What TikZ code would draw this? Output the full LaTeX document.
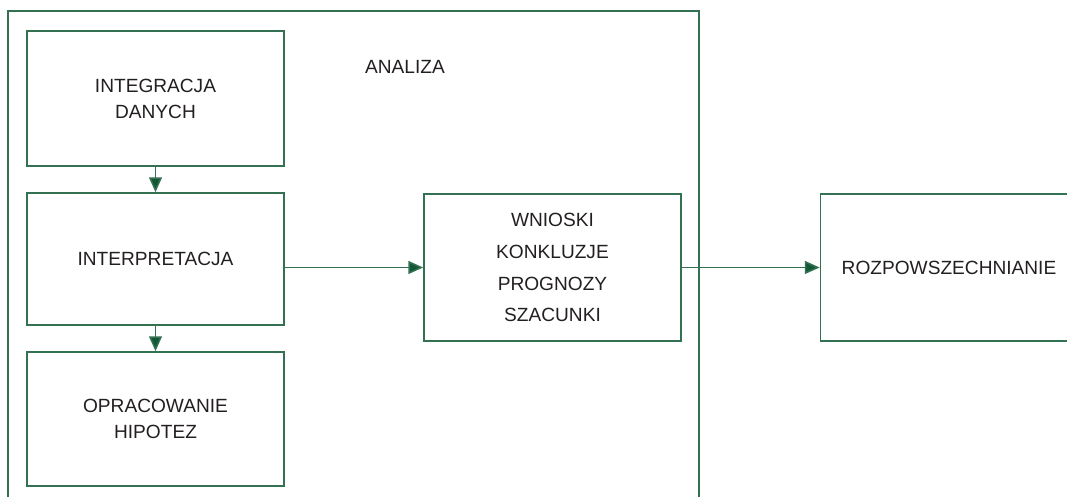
\documentclass[tikz,border=0pt]{standalone}
\usepackage{fontspec}
\setmainfont{Liberation Sans}
\usetikzlibrary{arrows.meta}

\definecolor{ramka}{RGB}{52,112,82}
\definecolor{grot}{RGB}{18,88,52}
\definecolor{tekst}{RGB}{35,31,32}

\tikzset{
  blok/.style={draw=ramka, line width=1.1pt, minimum width=6.425cm, text=tekst,
    align=center, font=\fontsize{13.6}{18.5}\selectfont, inner sep=0pt},
  strz/.style={draw=ramka, line width=1.1pt, -{Triangle[length=0.37cm,width=0.32cm,fill=grot]}}
}

\begin{document}
\begin{tikzpicture}
\clip (0,0) rectangle (26.675,12.425);

% ramka analizy (otwarta u dolu)
\draw[ramka, line width=1.1pt] (0.2,-0.2) -- (0.2,12.15) -- (17.475,12.15) -- (17.475,-0.2);
\node[text=tekst, font=\fontsize{13.6}{16}\selectfont] (analiza) at (10.125,10.75) {ANALIZA};

\node[blok, minimum height=3.375cm] (integr) at (3.8875,9.9625) {INTEGRACJA\\DANYCH};
\node[blok, minimum height=3.3cm] (interp) at (3.8875,5.95) {INTERPRETACJA};
\node[blok, minimum height=3.35cm] (hipot) at (3.8875,1.95) {OPRACOWANIE\\HIPOTEZ};

\node[blok, minimum height=3.675cm, font=\fontsize{13.6}{22.7}\selectfont] (wnioski) at (13.8125,5.7375)
  {WNIOSKI\\KONKLUZJE\\PROGNOZY\\SZACUNKI};
\node[blok, minimum height=3.675cm] (rozp) at (23.725,5.7375) {ROZPOWSZECHNIANIE};

%---------------------------------

\draw[strz] (integr) -- (interp);
\draw[strz] (interp) -- (hipot);
\draw[strz] (interp.east |- wnioski.west) -- (wnioski.west);
\draw[strz] (wnioski) -- (rozp);

\end{tikzpicture}
\end{document}
